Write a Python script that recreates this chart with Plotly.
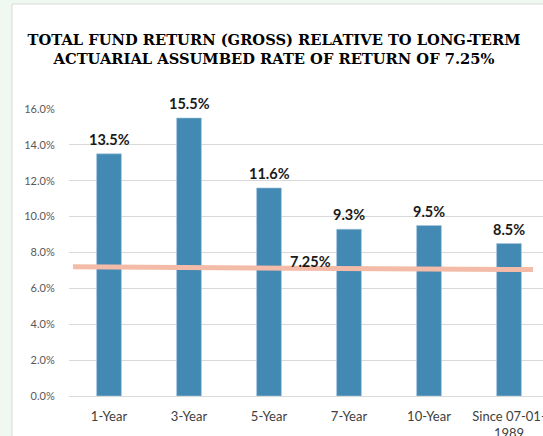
import plotly.graph_objects as go

categories = ["1-Year", "3-Year", "5-Year", "7-Year", "10-Year", "Since 07-01-<br>1989"]
returns = [13.5, 15.5, 11.6, 9.3, 9.5, 8.5]
bar_labels = ["13.5%", "15.5%", "11.6%", "9.3%", "9.5%", "8.5%"]
assumed_rate_label = "7.25%"
assumed_line_x = [-0.45, 5.3]
assumed_line_y = [7.2, 7.05]
y_ticks = [0, 2, 4, 6, 8, 10, 12, 14, 16]
y_tick_text = ["0.0%", "2.0%", "4.0%", "6.0%", "8.0%", "10.0%", "12.0%", "14.0%", "16.0%"]

W, H = 543, 436
L, R, T, B = 69, 0, 109, 40
pw = W - L - R
ph = H - T - B

fig = go.Figure()
fig.add_trace(go.Bar(
    x=list(range(len(categories))), y=returns,
    width=0.31,
    marker=dict(color="#4289b4", line=dict(color="#a9c8df", width=0.6)),
    showlegend=False, hoverinfo="skip",
))
for i, (v, lab) in enumerate(zip(returns, bar_labels)):
    fig.add_annotation(
        x=i, y=v, yshift=14.5, yanchor="middle", text="<b>" + lab + "</b>",
        showarrow=False, font=dict(family="Lato", size=14.5, color="#1a1a1a"),
    )
fig.add_trace(go.Scatter(
    x=assumed_line_x, y=assumed_line_y, mode="lines",
    line=dict(color="#f3bba8", width=5),
    showlegend=False, hoverinfo="skip",
))
fig.add_annotation(
    x=2.52, y=7.25, yshift=4.5, yanchor="middle", text="<b>" + assumed_rate_label + "</b>",
    showarrow=False, font=dict(family="Lato", size=14.5, color="#1a1a1a"),
)

# chart box (white area with gray border on light green page)
x0p = (12 - L) / pw
y1p = (H - B - 4) / ph
fig.add_shape(type="rect", xref="paper", yref="paper",
              x0=x0p, x1=1.1, y0=-0.3, y1=y1p,
              fillcolor="white", line=dict(color="#d9d9d9", width=1), layer="below")

fig.update_layout(
    width=W, height=H,
    margin=dict(l=L, r=R, t=T, b=B, pad=0),
    paper_bgcolor="#f0f8f2", plot_bgcolor="rgba(0,0,0,0)",
    title=dict(
        text="<b>TOTAL FUND RETURN (GROSS) RELATIVE TO LONG-TERM<br>ACTUARIAL ASSUMBED RATE OF RETURN OF 7.25%</b>",
        font=dict(family="DejaVu Serif", size=14.7, color="#000000"),
        x=274 / W, xref="container", xanchor="center",
        y=1 - 45 / H, yanchor="middle", yref="container",
    ),
    xaxis=dict(
        range=[-0.5, -0.5 + pw / 80],
        tickmode="array", tickvals=list(range(len(categories))), ticktext=categories,
        tickfont=dict(family="Lato", size=13, color="#404040"),
        ticklabeloverflow="allow", automargin=False,
        showgrid=False, zeroline=False, showline=False, ticks="outside", ticklen=8,
        tickcolor="rgba(0,0,0,0)", fixedrange=True,
    ),
    yaxis=dict(
        range=[0, 16], tickmode="array", tickvals=y_ticks, ticktext=y_tick_text,
        tickfont=dict(family="Lato", size=11, color="#595959"),
        showgrid=True, gridcolor="#d9d9d9", gridwidth=1,
        zeroline=True, zerolinecolor="#d9d9d9", zerolinewidth=1,
        showline=False, ticks="outside", ticklen=11, tickcolor="rgba(0,0,0,0)",
        automargin=False,
    ),
)

fig.write_html(
    "out.html",
    config={"displayModeBar": False},
    post_script="document.body.style.margin='0';document.body.style.overflow='hidden';",
)
